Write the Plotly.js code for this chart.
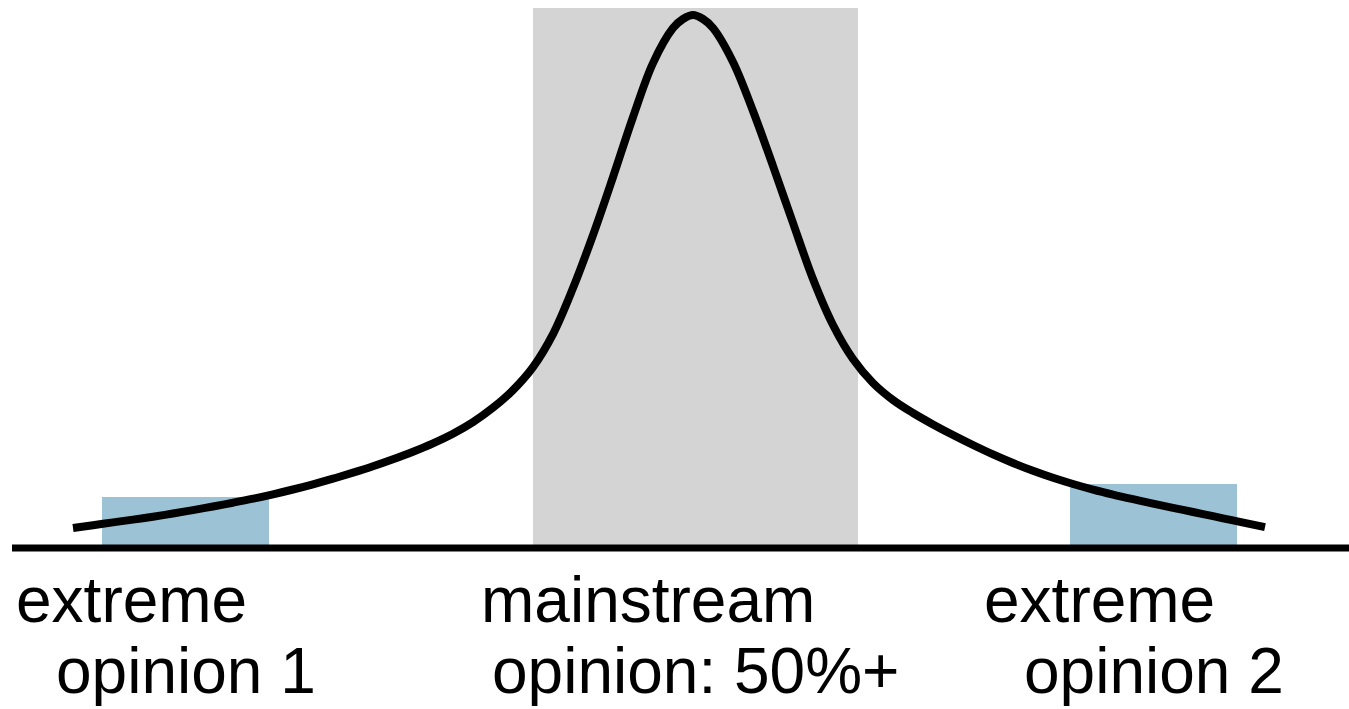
<!DOCTYPE html>
<html>
<head>
<meta charset="utf-8">
<script src="https://cdn.plot.ly/plotly-3.0.1.min.js"></script>
<style>
  html, body { margin: 0; padding: 0; background: #fff; }
  #chart { width: 1349px; height: 709px; }
</style>
</head>
<body>
<div id="chart"></div>
<script>
// Opinion distribution curve (x: opinion position, y: share)
const curveX = [73, 93, 113, 133, 153, 173, 193, 213, 233, 253, 273, 293, 313, 333, 353, 373, 393, 413, 433, 453, 473, 493, 513, 533, 553, 573, 593, 613, 633, 653, 673, 683, 693,
                703, 713, 733, 753, 773, 793, 813, 833, 853, 873, 893, 913, 933, 953, 973, 993, 1013, 1033, 1053, 1073, 1093, 1113, 1133, 1153, 1173, 1193, 1213, 1233, 1253, 1265];
const curveY = [20, 22.8, 25.6, 28.4, 31.3, 34.5, 37.9, 41.5, 45.3, 49.3, 53.7, 58.5, 63.7, 69.3, 75.3, 81.7, 88.7, 96.3, 104.7, 114.3, 125.9, 140.3, 157.9, 180.9, 213.9, 259.9, 312.9, 370.9, 430.9, 484.9, 519.9, 529, 533,
                529, 520, 486, 437, 382, 325, 269, 223, 189, 165, 148, 135, 123.6, 113, 103, 93.6, 85, 77.2, 70.2, 64, 58.4, 53.4, 48.8, 44.4, 40.2, 36, 31.8, 27.6, 23.4, 20.9];

// Highlighted regions
const regionNames = ["extreme opinion 1", "mainstream", "extreme opinion 2"];
const regionStart = [102, 533, 1070];
const regionEnd   = [269, 858, 1237];
const regionTop   = [51, 540, 64];
const regionColor = ["#9cc3d5", "#d4d4d4", "#9cc3d5"];

// Baseline
const baseX = [12, 1349];
const baseY = [0, 0];

// Labels
const labelText = ["extreme", "opinion 1", "mainstream", "opinion: 50%+", "extreme", "opinion 2"];
const labelX    = [14, 54, 479, 490, 982, 1022];
const labelY    = [-52, -123, -52, -123, -52, -123];

const shapes = regionNames.map((n, i) => ({
  type: 'rect', xref: 'x', yref: 'y', layer: 'below',
  x0: regionStart[i], x1: regionEnd[i], y0: 0, y1: regionTop[i],
  fillcolor: regionColor[i], line: { width: 0 }
}));
shapes.push({
  type: 'line', xref: 'x', yref: 'y', layer: 'above',
  x0: baseX[0], x1: baseX[1], y0: baseY[0], y1: baseY[1],
  line: { color: '#000', width: 7 }
});

const annotations = labelText.map((t, i) => ({
  text: t, x: labelX[i], y: labelY[i], xref: 'x', yref: 'y',
  xanchor: 'left', yanchor: 'middle', showarrow: false,
  font: { family: 'Liberation Sans, Arial, sans-serif', size: 64, color: '#000' }
}));

const traces = [{
  x: curveX, y: curveY, type: 'scatter', mode: 'lines',
  line: { color: '#000', width: 8, shape: 'spline', smoothing: 1 },
  hoverinfo: 'skip', showlegend: false
}];

const layout = {
  width: 1349, height: 709,
  margin: { l: 0, r: 0, t: 0, b: 0, pad: 0 },
  paper_bgcolor: '#fff', plot_bgcolor: '#fff',
  xaxis: { range: [0, 1349], visible: false, fixedrange: true },
  yaxis: { range: [-161, 548], visible: false, fixedrange: true },
  shapes: shapes,
  annotations: annotations,
  showlegend: false
};

Plotly.newPlot('chart', traces, layout, { staticPlot: true, displayModeBar: false });
</script>
</body>
</html>
